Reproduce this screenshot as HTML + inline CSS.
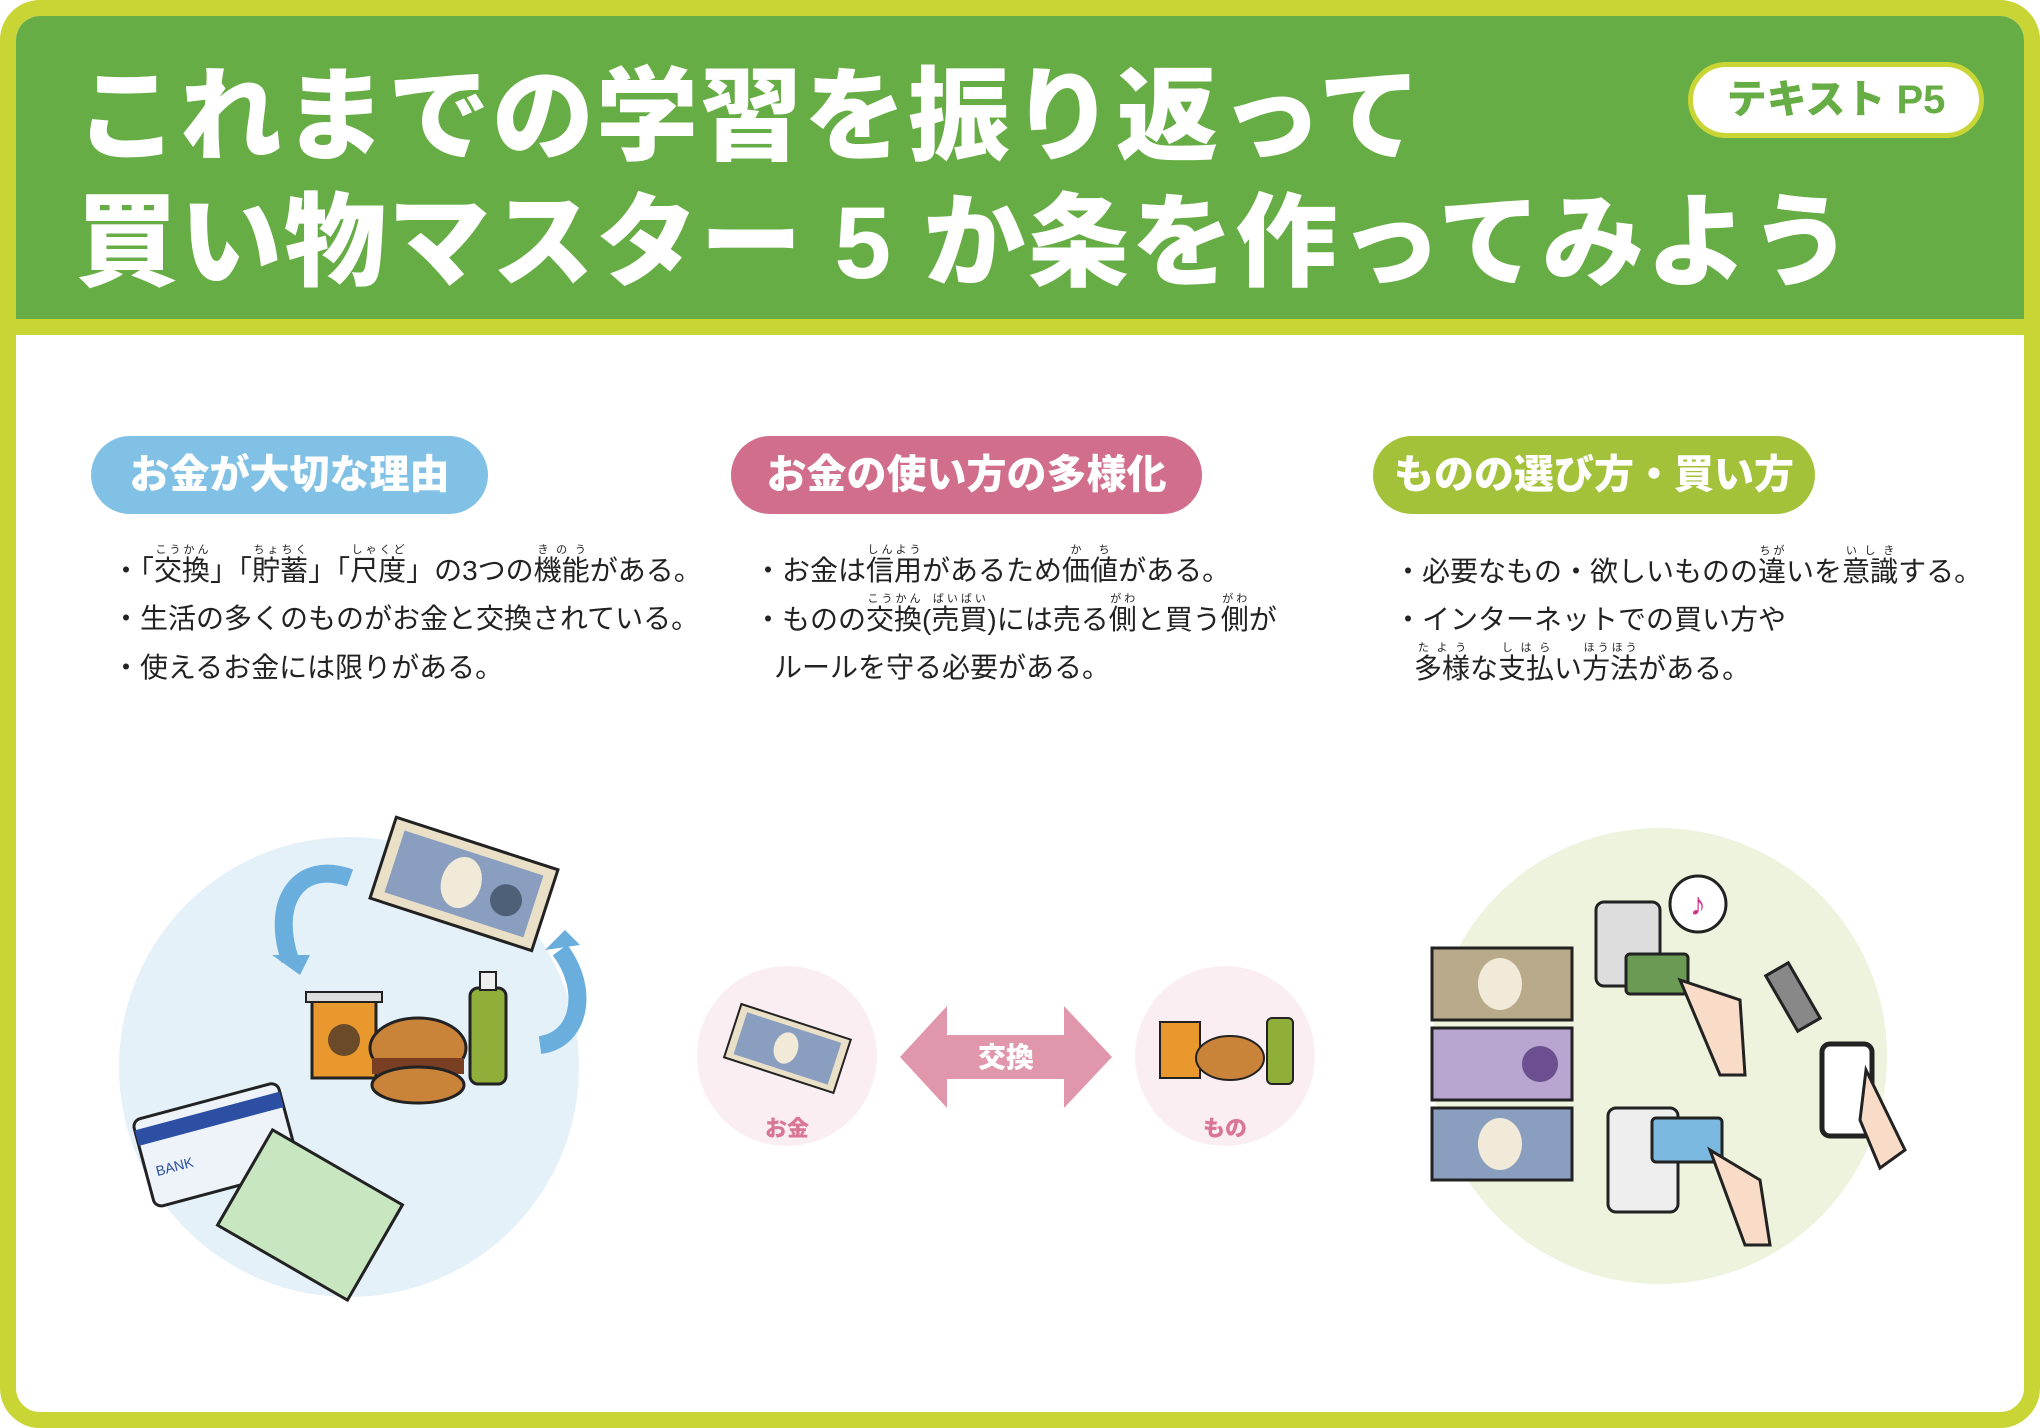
<!DOCTYPE html>
<html><head><meta charset="utf-8"><style>
*{margin:0;padding:0;box-sizing:border-box}
body{width:2040px;height:1428px;background:#fff;overflow:hidden;position:relative;font-family:"Liberation Sans","Noto Sans CJK JP",sans-serif}
.frame{position:absolute;left:0;top:0;width:2040px;height:1428px;border:16px solid #c8d535;border-radius:40px;background:#fff;overflow:hidden}
.head{position:absolute;left:0;top:0;width:2008px;height:303px;background:#67ad45}
.band{position:absolute;left:0;top:303px;width:2008px;height:16px;background:#c8d535}
.t{position:absolute;color:#fff;font-weight:900;font-size:102px;letter-spacing:2px;white-space:nowrap;line-height:1}
.p5{position:absolute;width:296px;height:76px;border:5px solid #c8d535;border-radius:40px;background:#fff;color:#67ad45;font-weight:900;font-size:40px;text-align:center;line-height:66px}
.pill{position:absolute;height:78px;border-radius:40px;color:#fff;font-weight:900;font-size:40px;line-height:78px;text-align:center}
.tx{position:absolute;font-size:28px;color:#222;white-space:nowrap;line-height:1}
rt{font-size:11px;color:#222}
ruby{ruby-position:over}
</style></head><body>
<div class="frame">
<div class="head"></div><div class="band"></div>
<div class="t" style="left:60px;top:50px">これまでの学習を振り返って</div>
<div class="t" style="left:60px;top:176px">買い物マスター 5 か条を作ってみよう</div>
<div class="p5" style="left:1672px;top:46px">テキスト P5</div>
<div class="pill" style="left:75px;top:420px;width:397px;background:#82c1e6">お金が大切な理由</div>
<div class="pill" style="left:715px;top:420px;width:471px;background:#d06e8b">お金の使い方の多様化</div>
<div class="pill" style="left:1357px;top:420px;width:442px;background:#a3c23a">ものの選び方・買い方</div>

<div class="tx" style="left:96px;top:528px">・「<ruby>交換<rt>こうかん</rt></ruby>」「<ruby>貯蓄<rt>ちょちく</rt></ruby>」「<ruby>尺度<rt>しゃくど</rt></ruby>」の3つの<ruby>機能<rt>きのう</rt></ruby>がある。</div>
<div class="tx" style="left:96px;top:589px">・生活の多くのものがお金と交換されている。</div>
<div class="tx" style="left:96px;top:638px">・使えるお金には限りがある。</div>

<div class="tx" style="left:738px;top:528px">・お金は<ruby>信用<rt>しんよう</rt></ruby>があるため<ruby>価値<rt>かち</rt></ruby>がある。</div>
<div class="tx" style="left:738px;top:577px">・ものの<ruby>交換<rt>こうかん</rt></ruby>(<ruby>売買<rt>ばいばい</rt></ruby>)には売る<ruby>側<rt>がわ</rt></ruby>と買う<ruby>側<rt>がわ</rt></ruby>が</div>
<div class="tx" style="left:758px;top:638px">ルールを守る必要がある。</div>

<div class="tx" style="left:1378px;top:529px">・必要なもの・欲しいものの<ruby>違<rt>ちが</rt></ruby>いを<ruby>意識<rt>いしき</rt></ruby>する。</div>
<div class="tx" style="left:1378px;top:590px">・インターネットでの買い方や</div>
<div class="tx" style="left:1398px;top:626px"><ruby>多様<rt>たよう</rt></ruby>な<ruby>支払<rt>しはら</rt></ruby>い<ruby>方法<rt>ほうほう</rt></ruby>がある。</div>
</div>

<svg style="position:absolute;left:0;top:0" width="2040" height="1428">
<circle cx="349" cy="1067" r="230" fill="#e4f1f9"/>
<path d="M350 878 C300 860 270 900 290 960" stroke="#6aaedd" stroke-width="18" fill="none"/>
<polygon points="272,955 310,955 300,975" fill="#6aaedd"/>
<path d="M560 950 C590 990 580 1040 540 1045" stroke="#6aaedd" stroke-width="18" fill="none"/>
<polygon points="545,950 580,945 565,930" fill="#6aaedd"/>
<g transform="rotate(18 460 880)"><rect x="380" y="840" width="170" height="85" fill="#eae0c8" stroke="#222" stroke-width="3"/><rect x="392" y="850" width="146" height="65" fill="#8a9ec0"/><ellipse cx="462" cy="882" rx="20" ry="26" fill="#f2ead8"/><circle cx="510" cy="885" r="16" fill="#4d6078"/></g>
<rect x="312" y="998" width="64" height="80" fill="#e8982c" stroke="#222" stroke-width="3"/><circle cx="344" cy="1040" r="16" fill="#6b4a2a"/>
<rect x="306" y="992" width="76" height="10" fill="#ddd" stroke="#222" stroke-width="2"/>
<ellipse cx="418" cy="1048" rx="48" ry="30" fill="#c9843a" stroke="#222" stroke-width="3"/><rect x="372" y="1058" width="92" height="16" fill="#7a3e22"/><ellipse cx="418" cy="1085" rx="46" ry="18" fill="#c9843a" stroke="#222" stroke-width="3"/>
<rect x="470" y="988" width="36" height="96" rx="8" fill="#8fae3a" stroke="#222" stroke-width="3"/><rect x="480" y="972" width="16" height="18" fill="#eee" stroke="#222" stroke-width="2"/>
<g transform="rotate(-15 215 1140)"><rect x="140" y="1100" width="150" height="90" rx="8" fill="#eef3fa" stroke="#222" stroke-width="3"/><rect x="140" y="1110" width="150" height="16" fill="#2c4fa3"/><text x="150" y="1160" font-size="14" fill="#2c4fa3" font-family="Liberation Sans">BANK</text></g>
<g transform="rotate(30 310 1215)"><rect x="235" y="1160" width="150" height="110" fill="#c8e6c0" stroke="#222" stroke-width="3"/></g>
<ellipse cx="787" cy="1056" rx="90" ry="90" fill="#fbeef3"/>
<ellipse cx="1225" cy="1056" rx="90" ry="90" fill="#fbeef3"/>
<g transform="rotate(18 786 1048)"><rect x="730" y="1020" width="115" height="56" fill="#eae0c8" stroke="#222" stroke-width="2"/><rect x="738" y="1026" width="99" height="44" fill="#8a9ec0"/><ellipse cx="786" cy="1048" rx="12" ry="16" fill="#f2ead8"/></g>
<text x="787" y="1136" font-size="22" font-weight="900" fill="#d97595" text-anchor="middle">お金</text>
<text x="1225" y="1136" font-size="22" font-weight="900" fill="#d97595" text-anchor="middle">もの</text>
<polygon points="900,1057 947,1006 947,1035 1064,1035 1064,1006 1112,1057 1064,1108 1064,1079 947,1079 947,1108" fill="#e097ab"/>
<text x="1006" y="1067" font-size="28" font-weight="900" fill="#fff" text-anchor="middle">交換</text>
<rect x="1160" y="1022" width="40" height="56" fill="#e8982c" stroke="#222" stroke-width="2"/>
<ellipse cx="1230" cy="1058" rx="34" ry="22" fill="#c9843a" stroke="#222" stroke-width="2"/>
<rect x="1267" y="1018" width="26" height="66" rx="5" fill="#8fae3a" stroke="#222" stroke-width="2"/>
<circle cx="1659" cy="1056" r="228" fill="#edf3dc"/>
<rect x="1432" y="948" width="140" height="72" fill="#b8aa8a" stroke="#222" stroke-width="3"/><ellipse cx="1500" cy="984" rx="22" ry="26" fill="#f2ead8"/>
<rect x="1432" y="1028" width="140" height="72" fill="#b8a6d0" stroke="#222" stroke-width="3"/><circle cx="1540" cy="1064" r="18" fill="#6c4f90"/>
<rect x="1432" y="1108" width="140" height="72" fill="#8a9ec0" stroke="#222" stroke-width="3"/><ellipse cx="1500" cy="1144" rx="22" ry="26" fill="#f2ead8"/>
<rect x="1596" y="902" width="64" height="84" rx="8" fill="#ddd" stroke="#222" stroke-width="3"/>
<rect x="1626" y="954" width="62" height="40" rx="4" fill="#6a9a54" stroke="#222" stroke-width="3"/>
<circle cx="1698" cy="904" r="28" fill="#fff" stroke="#222" stroke-width="3"/><text x="1698" y="915" font-size="32" fill="#d0338c" text-anchor="middle">♪</text>
<path d="M1680 980 L1740 1000 L1745 1075 L1720 1075 Z" fill="#f8dcc8" stroke="#222" stroke-width="3"/>
<rect x="1608" y="1108" width="70" height="104" rx="8" fill="#eee" stroke="#222" stroke-width="3"/>
<rect x="1652" y="1118" width="70" height="44" rx="4" fill="#7bb8e0" stroke="#222" stroke-width="3"/>
<path d="M1710 1150 L1760 1180 L1770 1245 L1745 1245 Z" fill="#f8dcc8" stroke="#222" stroke-width="3"/>
<rect x="1780" y="965" width="26" height="64" fill="#888" stroke="#222" stroke-width="3" transform="rotate(-30 1793 997)"/>
<rect x="1822" y="1044" width="50" height="92" rx="8" fill="#fff" stroke="#222" stroke-width="5"/>
<path d="M1866 1070 L1905 1150 L1880 1168 L1860 1120 Z" fill="#f8dcc8" stroke="#222" stroke-width="3"/>
</svg>
</body></html>
